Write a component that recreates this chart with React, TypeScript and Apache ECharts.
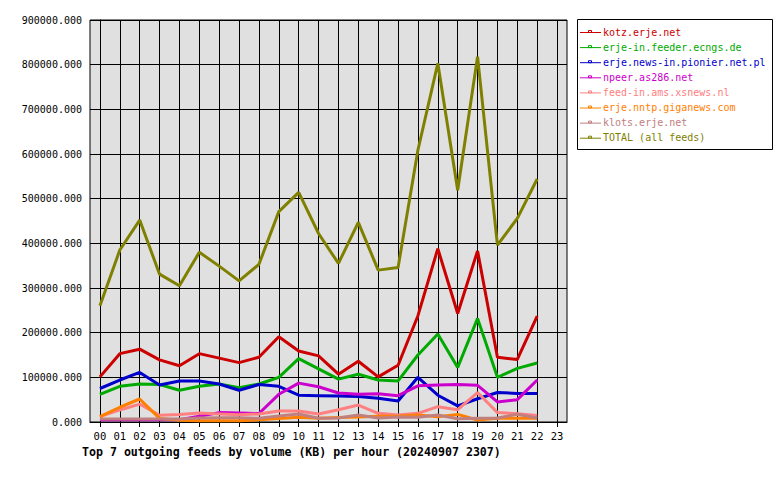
import React, { useEffect, useRef } from "react";
import * as echarts from "echarts";

const hourLabels = ["00","01","02","03","04","05","06","07","08","09","10","11","12","13","14","15","16","17","18","19","20","21","22","23"];
const yTicks = [0, 100000, 200000, 300000, 400000, 500000, 600000, 700000, 800000, 900000];

const feedNames = [
  "kotz.erje.net",
  "erje-in.feeder.ecngs.de",
  "erje.news-in.pionier.net.pl",
  "npeer.as286.net",
  "feed-in.ams.xsnews.nl",
  "erje.nntp.giganews.com",
  "klots.erje.net",
  "TOTAL (all feeds)",
];

const kotz = [101000,153000,163000,139000,126000,153000,143000,133000,145000,191000,159000,148000,107000,136000,101000,127000,238000,388000,243000,383000,145000,140000,237000];
const erjeIn = [62000,80000,85000,84000,71000,80000,85000,77000,85000,100000,142000,119000,96000,107000,94000,92000,150000,197000,122000,232000,100000,120000,132000];
const pionier = [75000,94000,111000,83000,92000,92000,85000,71000,84000,80000,60000,59000,58000,57000,53000,47000,100000,60000,36000,52000,66000,64000,64000];
const npeer = [5000,5000,5000,5000,5000,13000,21000,20000,19000,62000,87000,79000,65000,62000,63000,59000,81000,83000,84000,82000,45000,50000,94000];
const feedIn = [12000,27000,40000,15000,17000,20000,18000,16000,18000,24600,24600,18000,27500,38000,19400,15700,19400,34300,27500,66000,21000,18500,14500];
const giganews = [12000,33000,51500,8000,4000,3000,3000,3000,5000,8000,10400,8200,10000,11000,13000,13000,15700,12000,17000,4500,8200,8200,8200];
const klots = [6700,6700,6700,6700,6700,9000,9600,9600,8200,13400,17900,8200,9000,15700,9000,11000,10400,15700,7400,8200,9000,17200,9000];
const total = [260000,385000,452000,331000,305000,380000,349000,316000,353000,471000,514000,422000,355000,447000,340000,346000,609000,803000,519000,818000,396000,456000,544000];

const seriesValues = [kotz, erjeIn, pionier, npeer, feedIn, giganews, klots, total];
const colors = ["#cc0000", "#00aa00", "#0000cc", "#cc00cc", "#ff8080", "#ff8000", "#c08080", "#808000"];

const MONO = "'DejaVu Sans Mono', 'Liberation Mono', monospace";

export default function App() {
  const ref = useRef<HTMLDivElement>(null);
  useEffect(() => {
    if (!ref.current) return;
    const chart = echarts.init(ref.current, null, { renderer: "svg" });

    const plotLeft = 90, plotTop = 20, plotW = 477, plotH = 402;
    const step = plotW / 24;

    const legendX = 577, legendY = 19, legendW = 195, legendH = 130;
    const legendEls: any[] = [
      { type: "rect", shape: { x: legendX + 0.5, y: legendY + 0.5, width: legendW, height: legendH }, style: { fill: "#fff", stroke: "#000", lineWidth: 1 } },
    ];
    feedNames.forEach((name, i) => {
      const cy = 32 + i * 15.1;
      legendEls.push({ type: "line", shape: { x1: 580, y1: cy + 0.5, x2: 601, y2: cy + 0.5 }, style: { stroke: colors[i], lineWidth: 1 } });
      legendEls.push({ type: "rect", shape: { x: 588.5, y: cy - 1.5, width: 3, height: 2 }, style: { fill: "none", stroke: colors[i], lineWidth: 1 } });
      legendEls.push({ type: "text", x: 603, y: cy, style: { text: name, fill: colors[i], font: `10px ${MONO}`, verticalAlign: "middle", align: "left" } });
    });

    chart.setOption({
      animation: false,
      backgroundColor: "#ffffff",
      title: {
        text: "Top 7 outgoing feeds by volume (KB) per hour (20240907 2307)",
        left: 82,
        top: 446,
        padding: 0,
        textStyle: { fontFamily: MONO, fontWeight: "bold", fontSize: 11.6, color: "#000" },
      },
      grid: [
        { left: plotLeft, top: plotTop, width: plotW, height: plotH, show: true, backgroundColor: "#e0e0e0", borderColor: "#000", borderWidth: 1, containLabel: false },
        { left: plotLeft + step / 2, top: plotTop, width: plotW - step, height: plotH, show: false, containLabel: false },
      ],
      xAxis: [
        { type: "value", gridIndex: 0, min: -0.5, max: 23.5, axisLine: { show: true, lineStyle: { color: "#000", width: 1 } }, axisTick: { show: false }, axisLabel: { show: false }, splitLine: { show: false } },
        {
          type: "value", gridIndex: 1, min: 0, max: 23, interval: 1,
          axisLine: { show: false },
          axisTick: { show: true, length: 5, lineStyle: { color: "#000", width: 1 } },
          axisLabel: { show: true, margin: 8, color: "#000", fontFamily: MONO, fontSize: 10.5, formatter: (v: number) => hourLabels[Math.round(v)] ?? "" },
          splitLine: { show: true, lineStyle: { color: "#000", width: 1 } },
        },
      ],
      yAxis: [
        {
          type: "value", gridIndex: 0, min: yTicks[0], max: yTicks[yTicks.length - 1], interval: yTicks[1] - yTicks[0],
          axisLine: { show: true, lineStyle: { color: "#000", width: 1 } },
          axisTick: { show: true, length: 5, lineStyle: { color: "#000", width: 1 } },
          axisLabel: { show: true, margin: 8, color: "#000", fontFamily: MONO, fontSize: 10, formatter: (v: number) => v.toFixed(3) },
          splitLine: { show: true, lineStyle: { color: "#000", width: 1 } },
        },
        { type: "value", gridIndex: 1, min: yTicks[0], max: yTicks[yTicks.length - 1], show: false, splitLine: { show: false } },
      ],
      series: seriesValues.map((vals, i) => ({
        type: "line",
        name: feedNames[i],
        xAxisIndex: 1,
        yAxisIndex: 1,
        data: vals.map((v, h) => [h, v]),
        showSymbol: false,
        symbol: "none",
        lineStyle: { color: colors[i], width: 3 },
        itemStyle: { color: colors[i] },
        z: 3 + i,
      })),
      graphic: legendEls,
    });
    return () => chart.dispose();
  }, []);
  return <div ref={ref} style={{ position: "fixed", left: 0, top: 0, width: 780, height: 480 }} />;
}
